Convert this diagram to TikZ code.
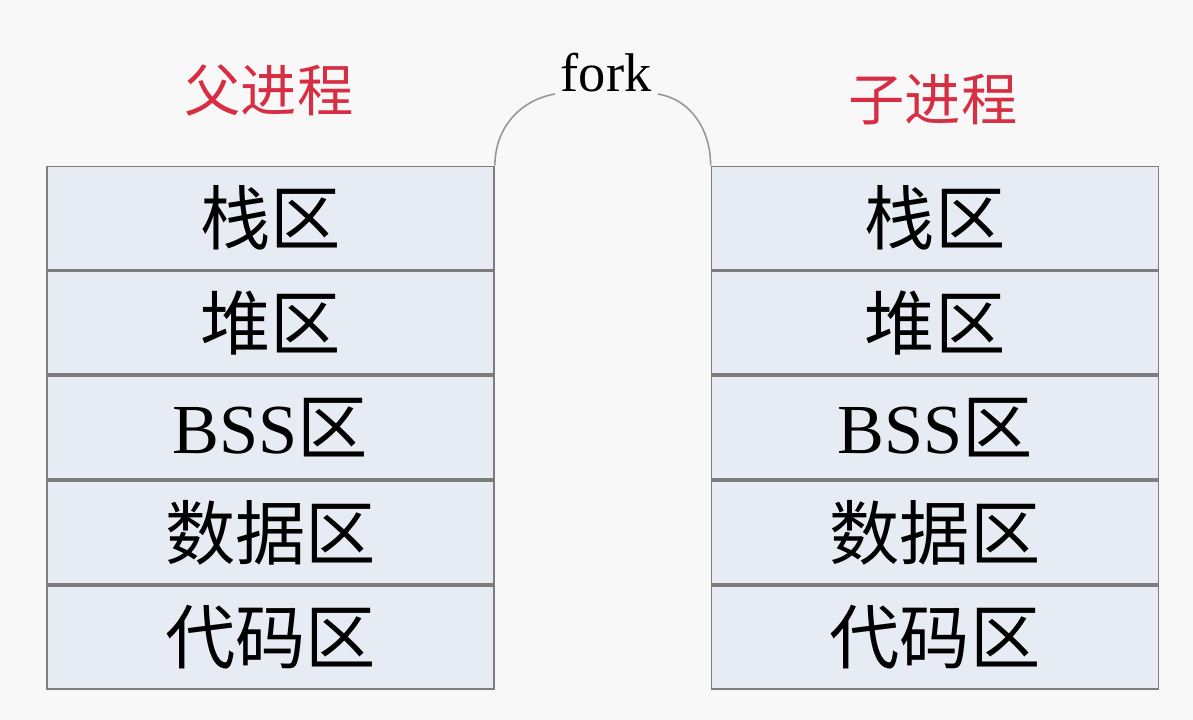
\documentclass[tikz,border=0pt]{standalone}
\usepackage{fontspec}
\setmainfont{Liberation Serif}
\newfontfamily\cjk{Noto Sans CJK SC}
\usetikzlibrary{positioning}

\definecolor{pagebg}{RGB}{248,248,248}
\definecolor{cellfill}{RGB}{231,236,244}
\definecolor{cellline}{RGB}{125,125,125}
\definecolor{titlered}{RGB}{216,46,68}

\begin{document}
\begin{tikzpicture}[
  cell/.style={draw=cellline,line width=1pt,fill=cellfill,minimum width=8.94cm,
    minimum height=2.061cm,inner sep=0pt,font=\fontsize{40}{42}\selectfont\cjk},
  title/.style={text=titlered,font=\fontsize{32}{35}\selectfont\cjk},
  link/.style={draw=cellline!80,line width=0.9pt}
]
  \useasboundingbox[fill=pagebg] (0,0) rectangle (23.86,14.4);

  % parent process
  \node[title] (ptitle) at (5.38,12.6) {父进程};
  \node[cell] (p1) at (5.41,10.04) {栈区};
  \node[cell,below=0pt of p1] (p2) {堆区};
  \node[cell,below=0pt of p2] (p3) {{\rmfamily BSS}区};
  \node[cell,below=0pt of p3] (p4) {数据区};
  \node[cell,below=0pt of p4] (p5) {代码区};

  % child process
  \node[title] (ctitle) at (18.66,12.4) {子进程};
  \node[cell] (c1) at (18.7,10.04) {栈区};
  \node[cell,below=0pt of c1] (c2) {堆区};
  \node[cell,below=0pt of c2] (c3) {{\rmfamily BSS}区};
  \node[cell,below=0pt of c3] (c4) {数据区};
  \node[cell,below=0pt of c4] (c5) {代码区};

  % fork
  \node[font=\fontsize{31}{33}\selectfont] (fork) at (12.12,12.95) {fork};
  \coordinate (forkL) at (11.1,12.52);
  \coordinate (forkR) at (13.16,12.52);
  \draw[link] (p1.north east) to[out=90,in=190] (forkL);
  \draw[link] (forkR) to[out=-10,in=90] (c1.north west);
\end{tikzpicture}
\end{document}
